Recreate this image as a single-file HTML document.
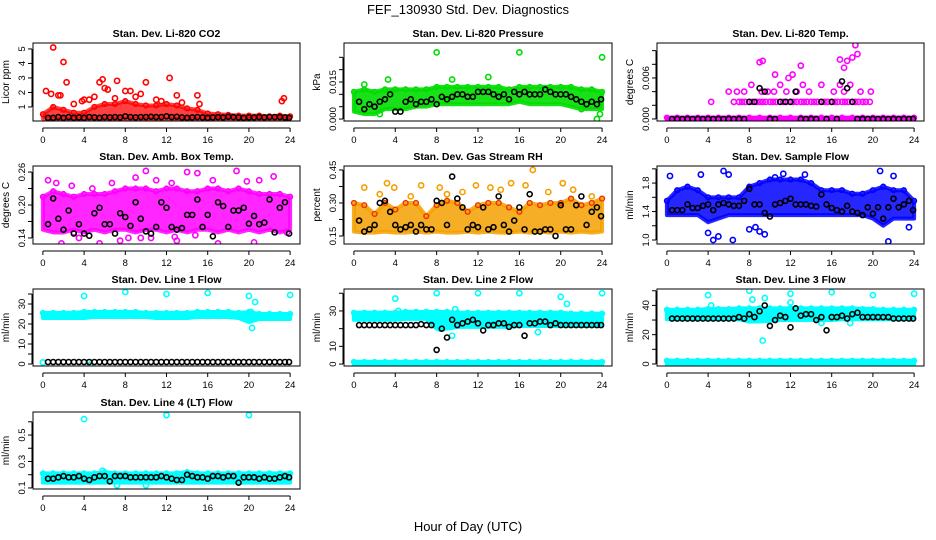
<!DOCTYPE html>
<html><head><meta charset="utf-8">
<style>
body{margin:0;background:#fff;}
svg{display:block;font-family:"Liberation Sans",sans-serif;}
</style></head>
<body>
<svg id="c" width="936" height="540" viewBox="0 0 936 540" xmlns="http://www.w3.org/2000/svg">
<text x="468" y="14" text-anchor="middle" font-size="13">FEF_130930  Std. Dev. Diagnostics</text>
<text x="468" y="531" text-anchor="middle" font-size="13">Hour of Day (UTC)</text>
</svg>
<script>
// shared x tick labels and band hours
const xTicks = [0,4,8,12,16,20,24];
const bandHours = [0,1,2,3,4,5,6,7,8,9,10,11,12,13,14,15,16,17,18,19,20,21,22,23,24];
const blackHours = [0.5,1,1.5,2,2.5,3,3.5,4,4.5,5,5.5,6,6.5,7,7.5,8,8.5,9,9.5,10,10.5,11,11.5,12,12.5,13,13.5,14,14.5,15,15.5,16,16.5,17,17.5,18,18.5,19,19.5,20,20.5,21,21.5,22,22.5,23,23.5,23.9];

// CO2
const co2Lo = [0.2,0.2,0.2,0.2,0.2,0.2,0.2,0.2,0.2,0.2,0.2,0.2,0.2,0.2,0.2,0.2,0.2,0.2,0.2,0.2,0.2,0.2,0.2,0.2,0.2];
const co2Hi = [0.5,1.0,0.8,0.6,0.6,1.0,1.2,1.2,1.4,1.2,1.1,1.1,1.2,1.1,0.9,0.8,0.55,0.5,0.45,0.4,0.4,0.4,0.35,0.4,0.35];
const co2OutX = [1,2,2.3,0.3,5.5,5.8,7.2,10,12.3,15,9.5,23.2,23.4,6,1.7,0.8,1.5,4,8,8.5,11,13,6.3,3.8,15.2,4.5,7,9,11.5,13.5,5,3];
const co2OutY = [5.1,4.1,2.7,2.1,2.7,2.9,2.8,2.7,3.0,1.8,1.9,1.4,1.6,2.3,1.8,1.9,1.8,1.5,2.1,2.1,1.5,1.8,2.2,1.4,1.2,1.5,1.6,1.7,1.4,1.3,1.7,1.2];
const co2Black = [0.25,0.25,0.3,0.25,0.3,0.25,0.28,0.25,0.3,0.28,0.25,0.3,0.28,0.3,0.28,0.35,0.3,0.28,0.3,0.3,0.32,0.3,0.3,0.35,0.3,0.32,0.28,0.25,0.28,0.3,0.28,0.25,0.28,0.3,0.28,0.32,0.3,0.28,0.25,0.28,0.28,0.3,0.28,0.3,0.3,0.3,0.28,0.25];
// Pressure
const prLo = [0.003,0.002,0.002,0.004,0.004,0.004,0.005,0.005,0.006,0.006,0.006,0.006,0.006,0.006,0.006,0.006,0.007,0.006,0.006,0.006,0.006,0.005,0.004,0.004,0.004];
const prHi = [0.011,0.012,0.011,0.012,0.012,0.012,0.012,0.012,0.013,0.013,0.013,0.013,0.013,0.013,0.013,0.012,0.013,0.013,0.013,0.013,0.013,0.013,0.012,0.012,0.011];
const prOutX = [8,16,24,23.5,3.3,13,1,2.5,23.8,9.5,22];
const prOutY = [0.027,0.027,0.025,0.000,0.016,0.017,0.014,0.002,0.002,0.016,0.004];
const prBlack = [0.007,0.004,0.006,0.005,0.007,0.008,0.010,0.003,0.003,0.007,0.008,0.006,0.007,0.007,0.008,0.006,0.009,0.008,0.009,0.010,0.010,0.009,0.009,0.011,0.011,0.011,0.010,0.009,0.010,0.008,0.011,0.010,0.011,0.010,0.010,0.010,0.012,0.011,0.010,0.010,0.010,0.009,0.008,0.007,0.006,0.007,0.006,0.008];
// Li-820 temp
const tLo = [-0.0002,-0.0002,-0.0002,-0.0002,-0.0002,-0.0002,-0.0002,-0.0002,-0.0002,-0.0002,-0.0002,-0.0002,-0.0002,-0.0002,-0.0002,-0.0002,-0.0002,-0.0002,-0.0002,-0.0002,-0.0002,-0.0002,-0.0002,-0.0002,-0.0002];
const tHi = [0.0002,0.0002,0.0002,0.0002,0.0002,0.0002,0.0002,0.0002,0.0002,0.0002,0.0002,0.0002,0.0002,0.0002,0.0002,0.0002,0.0002,0.0002,0.0002,0.0002,0.0002,0.0002,0.0002,0.0002,0.0002];
const tOutX = [4.3,6.5,7,7.3,7.6,8,8.3,8.7,9,9.3,9.6,10,10.3,10.6,11,11.3,11.6,12,12.3,12.6,13,13.3,13.6,14,14.3,14.6,15,15.3,15.6,16,16.3,16.6,17,17.3,17.6,18,18.3,18.6,19,19.3,19.7,6,6.8,7.5,8.2,9.2,9.8,10.4,11,11.6,12.6,13.2,13.8,15,16.2,16.8,17.2,17.8,18.8,19.8,9,9.3,10.5,11.8,12.2,13,16.8,17.5,18,18.3,18.5,17.2];
const tOutY = [0.0025,0.0025,0.0025,0.0025,0.0025,0.0025,0.0025,0.0025,0.0025,0.0025,0.0025,0.0025,0.0025,0.0025,0.0025,0.0025,0.0025,0.0025,0.0025,0.0025,0.0025,0.0025,0.0025,0.0025,0.0025,0.0025,0.0025,0.0025,0.0025,0.0025,0.0025,0.0025,0.0025,0.0025,0.0025,0.0025,0.0025,0.0025,0.0025,0.0025,0.0025,0.004,0.004,0.004,0.005,0.004,0.004,0.004,0.005,0.004,0.004,0.005,0.004,0.005,0.004,0.005,0.004,0.005,0.004,0.004,0.0083,0.0085,0.0065,0.006,0.0065,0.0078,0.0087,0.0085,0.009,0.0108,0.0095,0.0075];
const tBlack = [0,0,0,0,0,0,0,0,0,0,0,0,0,0,0,0.0025,0.0025,0.0045,0.004,0,0,0.0025,0.0025,0.0025,0.004,0,0,0,0,0.0025,0,0.0025,0,0.0055,0.0045,0.0025,0,0,0,0,0,0,0,0,0,0,0,0];
// Amb box temp
const abLo = [0.155,0.15,0.15,0.155,0.15,0.155,0.15,0.155,0.155,0.15,0.155,0.155,0.15,0.155,0.15,0.155,0.155,0.15,0.155,0.15,0.155,0.15,0.155,0.15,0.155];
const abHi = [0.215,0.225,0.22,0.215,0.22,0.22,0.22,0.225,0.23,0.23,0.23,0.225,0.23,0.23,0.225,0.225,0.23,0.23,0.225,0.23,0.225,0.22,0.22,0.22,0.215];
const abOutX = [0.5,1.3,2.8,4.8,6.7,9,10,11,12.5,14,15,16.5,18.8,19.8,21,22.4,1.8,3.5,5.5,8.3,10.5,13,17,20.5,23.7,3,12.8,14.8,7.5,9.5];
const abOutY = [0.245,0.24,0.235,0.23,0.24,0.25,0.262,0.245,0.24,0.26,0.258,0.245,0.262,0.243,0.245,0.252,0.13,0.14,0.13,0.14,0.14,0.135,0.13,0.132,0.15,0.15,0.142,0.145,0.135,0.14];
const abBlack = [0.165,0.212,0.175,0.155,0.19,0.148,0.165,0.148,0.144,0.185,0.195,0.165,0.165,0.148,0.185,0.178,0.162,0.205,0.175,0.152,0.148,0.16,0.205,0.195,0.16,0.155,0.158,0.182,0.182,0.21,0.16,0.182,0.143,0.205,0.198,0.16,0.19,0.19,0.195,0.166,0.18,0.165,0.168,0.21,0.15,0.195,0.205,0.148];
// RH
const rhLo = [0.17,0.165,0.165,0.17,0.165,0.165,0.17,0.165,0.17,0.165,0.165,0.17,0.165,0.17,0.165,0.165,0.17,0.165,0.17,0.165,0.17,0.165,0.17,0.165,0.17];
const rhHi = [0.3,0.29,0.25,0.3,0.27,0.3,0.3,0.24,0.29,0.31,0.3,0.26,0.29,0.3,0.3,0.28,0.26,0.3,0.29,0.3,0.3,0.32,0.29,0.3,0.32];
const rhOutX = [1,2.5,3.2,3.9,5.5,6.5,8.3,9,10.5,11.8,13.2,14.2,15.2,16.6,17.3,18.8,20.2,21.2,23];
const rhOutY = [0.37,0.34,0.39,0.37,0.33,0.38,0.37,0.34,0.35,0.38,0.37,0.36,0.39,0.38,0.45,0.35,0.39,0.36,0.33];
const rhBlack = [0.22,0.17,0.18,0.2,0.3,0.31,0.26,0.2,0.18,0.19,0.2,0.17,0.2,0.18,0.18,0.31,0.3,0.2,0.42,0.32,0.28,0.18,0.2,0.19,0.28,0.18,0.19,0.33,0.2,0.17,0.22,0.28,0.18,0.34,0.17,0.17,0.18,0.18,0.15,0.29,0.18,0.18,0.29,0.33,0.2,0.26,0.28,0.24];
// Sample flow
const sfLo = [1.35,1.35,1.35,1.35,1.25,1.3,1.35,1.35,1.35,1.35,1.35,1.35,1.35,1.35,1.35,1.35,1.35,1.35,1.35,1.35,1.3,1.2,1.3,1.3,1.3];
const sfHi = [1.55,1.7,1.75,1.7,1.6,1.6,1.6,1.6,1.75,1.8,1.85,1.85,1.85,1.85,1.8,1.7,1.7,1.7,1.65,1.65,1.7,1.75,1.7,1.7,1.55];
const sfOutX = [0.3,5.5,6,6.4,4.5,5,4,8,9,9.5,20.7,21.5,22,23.5,11.3,13.4,3.3,8.6,10.5];
const sfOutY = [1.9,1.97,1.92,1.0,1.0,1.05,1.1,1.15,1.12,1.08,1.97,0.98,1.9,1.18,1.93,1.92,1.92,1.18,1.88];
const sfBlack = [1.42,1.42,1.42,1.5,1.45,1.45,1.48,1.5,1.42,1.5,1.52,1.5,1.48,1.48,1.55,1.72,1.5,1.5,1.38,1.33,1.5,1.52,1.55,1.58,1.5,1.5,1.5,1.48,1.47,1.64,1.5,1.45,1.42,1.4,1.48,1.4,1.38,1.35,1.46,1.37,1.46,1.3,1.46,1.58,1.46,1.5,1.55,1.42];
// Line 1
const l1Lo = [23,23,23,23,23,23.5,23.5,23.5,23.5,23.5,23.5,23,23,23,23,23.5,23.5,23.5,23.5,23,21,22.5,22.5,22.5,22.5];
const l1Hi = [25.5,25.5,25.5,25.5,26,26,26,26,26,26,25.5,25.5,25.5,25.5,25.5,26,26,26,26,25.5,26,25,25,25,25];
const l1OutX = [4,8,12,16,20,24,20.3,20.6,0,4.6,20.2];
const l1OutY = [34,36,35,35.5,34,34.5,18,31,0.8,-0.3,26];
const l1Black = [1,1,1,1,1,1,1,1,1,1,1,1,1,1,1,1,1,1,1,1,1,1,1,1,1,1,1,1,1,1,1,1,1,1,1,1,1,1,1,1,1,1,1,1,1,1,1,1];
// Line 2
const l2Lo = [25,25,25,25,25,25.5,25.5,25.5,20,20,21,21,21,21,21,21,21.5,21.5,21.5,21.5,21.5,21.5,21.5,21.5,21.5];
const l2Hi = [29,29,29,29,29,29.5,29.5,29.5,29.5,29.5,29,29,29,29,29,29,29,29,29,29,29,28.5,28.5,28.5,28.5];
const l2OutX = [4,8,12,16,20,24,4.3,9.5,20.6,8.3,9.8,17.8];
const l2OutY = [37,40,40,40,38,40,30,16,34,20,31,18];
const l2Black = [22,22,22,22,22,22,22,22,22,22,22,22,22.5,22,22,8,20,15,25,22,23,24,25,23,19,22,22,23,23,21,22,22,16,23,23,24,24,22,23,22,22,22,22,22,22,22,22,22];
const l2ZeroLo = [-0.5,-0.5,-0.5,-0.5,-0.5,-0.5,-0.5,-0.5,-0.5,-0.5,-0.5,-0.5,-0.5,-0.5,-0.5,-0.5,-0.5,-0.5,-0.5,-0.5,-0.5,-0.5,-0.5,-0.5,-0.5];
const l2ZeroHi = [1.2,1.2,1.2,1.2,1.2,1.2,1.2,1.2,1.2,1.2,1.2,1.2,1.2,1.2,1.2,1.2,1.2,1.2,1.2,1.2,1.2,1.2,1.2,1.2,1.2];
// Line 3
const l3Lo = [30.5,30.5,30.5,30.5,30.5,30.5,30.5,30.5,29,29,29.5,30,30,30,30,30,30,30.5,30.5,30.5,30.5,30.5,30.5,30.5,30.5];
const l3Hi = [37,37,37,37,37.5,37.5,37.5,38,38,38,38,38,38,38,38,38,38,38,38,37.5,37.5,37,37,37,37];
const l3OutX = [4,8,12,16,20,24,8.3,9.5,12,17.8,9.3,4.3,15];
const l3OutY = [47,50,48,49,47,48,44,45,42,28,16,40,28];
const l3Black = [31,31,31,31,31,31,31,31,31,31,31,31,31,32,31,34,32,36,40,26,30,33,32,25,38,33,34,34,30,32,23,32,32,33,31,34,35,32,32,32,32,32,32,31,31,31,31,31];
const l3ZeroLo = [0,0,0,0,0,0,0,0,0,0,0,0,0,0,0,0,0,0,0,0,0,0,0,0,0];
const l3ZeroHi = [2.2,2.2,2.2,2.2,2.2,2.2,2.2,2.2,2.2,2.2,2.2,2.2,2.2,2.2,2.2,2.2,2.2,2.2,2.2,2.2,2.2,2.2,2.2,2.2,2.2];
// Line 4
const l4Lo = [0.14,0.14,0.14,0.14,0.14,0.14,0.14,0.14,0.14,0.14,0.14,0.14,0.14,0.14,0.14,0.14,0.14,0.14,0.14,0.14,0.14,0.14,0.14,0.14,0.14];
const l4Hi = [0.21,0.21,0.21,0.21,0.21,0.21,0.22,0.21,0.21,0.21,0.21,0.21,0.21,0.21,0.22,0.21,0.21,0.21,0.21,0.21,0.21,0.21,0.21,0.21,0.21];
const l4OutX = [4,12,20,10,5.8,7.2];
const l4OutY = [0.62,0.65,0.65,0.12,0.23,0.12];
const l4Black = [0.17,0.17,0.18,0.19,0.18,0.18,0.19,0.17,0.16,0.18,0.19,0.19,0.15,0.19,0.19,0.19,0.18,0.18,0.18,0.18,0.18,0.18,0.19,0.18,0.17,0.16,0.16,0.2,0.19,0.18,0.18,0.17,0.19,0.19,0.18,0.19,0.19,0.14,0.18,0.18,0.18,0.17,0.18,0.17,0.17,0.18,0.19,0.18];

const panels = [
 {name:'co2',title:'Stan. Dev. Li-820 CO2',yl:'Licor ppm',box:[33,43,300,121],yd:[0.03,5.41],ticks:[1,2,3,4,5],labs:['1','2','3','4','5'],col:'#ff0000',edge:'#ff0000',fo:0.75,bands:[[co2Lo,co2Hi]],ox:co2OutX,oy:co2OutY,bk:co2Black},
 {name:'pressure',title:'Stan. Dev. Li-820 Pressure',yl:'kPa',box:[344,43,612,121],yd:[-0.0008,0.0308],ticks:[0,0.005,0.01,0.015,0.02,0.025],labs:['0.000','','','0.015','',''],col:'#00dd00',edge:'#00dd00',fo:0.9,bands:[[prLo,prHi]],ox:prOutX,oy:prOutY,bk:prBlack},
 {name:'li820-temp',title:'Stan. Dev. Li-820 Temp.',yl:'degrees C',box:[657,43,924,121],yd:[-0.0003,0.01112],ticks:[0,0.002,0.004,0.006,0.008,0.01],labs:['0.000','','','0.006','',''],col:'#ff00ff',edge:'#ff00ff',fo:1,bands:[[tLo,tHi]],ox:tOutX,oy:tOutY,bk:tBlack},
 {name:'amb-box-temp',title:'Stan. Dev. Amb. Box Temp.',yl:'degrees C',box:[33,166,300,244],yd:[0.129,0.271],ticks:[0.14,0.17,0.2,0.23,0.26],labs:['0.14','','0.20','','0.26'],col:'#ff00ff',edge:'#ff00ff',fo:0.85,bands:[[abLo,abHi]],ox:abOutX,oy:abOutY,bk:abBlack},
 {name:'gas-rh',title:'Stan. Dev. Gas Stream RH',yl:'percent',box:[344,166,612,244],yd:[0.1136,0.468],ticks:[0.15,0.225,0.3,0.375,0.45],labs:['0.15','','0.30','','0.45'],col:'#f5a000',edge:'#ee3300',fo:0.85,bands:[[rhLo,rhHi]],ox:rhOutX,oy:rhOutY,bk:rhBlack},
 {name:'sample-flow',title:'Stan. Dev. Sample Flow',yl:'ml/min',box:[657,166,924,244],yd:[0.944,2.04],ticks:[1,1.2,1.4,1.6,1.8,2.0],labs:['1.0','','1.4','','1.8',''],col:'#0000ff',edge:'#0000ff',fo:0.85,bands:[[sfLo,sfHi]],ox:sfOutX,oy:sfOutY,bk:sfBlack},
 {name:'line1-flow',title:'Stan. Dev. Line 1 Flow',yl:'ml/min',box:[33,289,300,366],yd:[-1,37.5],ticks:[0,5,10,15,20,25,30,35],labs:['0','','10','','20','','30',''],col:'#00ffff',edge:'#00ffff',fo:1,bands:[[l1Lo,l1Hi]],ox:l1OutX,oy:l1OutY,bk:l1Black},
 {name:'line2-flow',title:'Stan. Dev. Line 2 Flow',yl:'ml/min',box:[344,289,612,366],yd:[-1.1,42.4],ticks:[0,10,20,30,40],labs:['0','10','','30',''],col:'#00ffff',edge:'#00ffff',fo:1,bands:[[l2Lo,l2Hi],[l2ZeroLo,l2ZeroHi]],ox:l2OutX,oy:l2OutY,bk:l2Black},
 {name:'line3-flow',title:'Stan. Dev. Line 3 Flow',yl:'ml/min',box:[657,289,924,366],yd:[-1.4,51.2],ticks:[0,10,20,30,40,50],labs:['0','','20','','40',''],col:'#00ffff',edge:'#00ffff',fo:1,bands:[[l3Lo,l3Hi],[l3ZeroLo,l3ZeroHi]],ox:l3OutX,oy:l3OutY,bk:l3Black},
 {name:'line4-flow',title:'Stan. Dev. Line 4 (LT) Flow',yl:'ml/min',box:[33,412,300,489],yd:[0.092,0.674],ticks:[0.1,0.2,0.3,0.4,0.5,0.6],labs:['0.1','','0.3','','0.5',''],col:'#00ffff',edge:'#00ffff',fo:1,bands:[[l4Lo,l4Hi]],ox:l4OutX,oy:l4OutY,bk:l4Black}
];

const svg = document.getElementById('c');
const NS = 'http://www.w3.org/2000/svg';
function mk(tag, attrs, parent){
  const e = document.createElementNS(NS, tag);
  for (const k in attrs) e.setAttribute(k, attrs[k]);
  parent.appendChild(e);
  return e;
}
panels.forEach(p => {
  const [x0,y0,x1,y1] = p.box;
  const sx = v => x0 + (v + 0.96) / 25.92 * (x1 - x0);
  const sy = v => y1 - (v - p.yd[0]) / (p.yd[1] - p.yd[0]) * (y1 - y0);
  const g = mk('g', {}, svg);
  
  
  const cp = mk('clipPath', {id: 'cp-' + p.name}, g);
  mk('rect', {x: x0, y: y0, width: x1 - x0, height: y1 - y0}, cp);
  const t = mk('text', {x: (x0 + x1) / 2, y: y0 - 6, 'text-anchor': 'middle', 'font-size': 10.5, 'font-weight': 'bold'}, g);
  t.textContent = p.title;
  
  
  const yl = mk('text', {transform: `translate(${x0 - 24},${(y0 + y1) / 2}) rotate(-90)`, 'text-anchor': 'middle', 'font-size': 10}, g);
  yl.textContent = p.yl;
  
  
  const data = mk('g', {'clip-path': `url(#cp-${p.name})`}, g);
  
  
  p.bands.forEach(b => {
    const lo = b[0], hi = b[1];
    let pts = bandHours.map((h, i) => sx(h) + ',' + sy(hi[i]));
    pts = pts.concat(bandHours.slice().reverse().map((h, j) => sx(h) + ',' + sy(lo[bandHours.length - 1 - j])));
    const poly = mk('polygon', {points: pts.join(' '), fill: p.col, 'fill-opacity': p.fo, stroke: p.col, 'stroke-opacity': p.fo, 'stroke-width': 4, 'stroke-linejoin': 'round'}, data);
    
    
    bandHours.forEach((h, i) => {
      const e1 = mk('circle', {cx: sx(h), cy: sy(hi[i]), r: 2.4, fill: 'none', stroke: p.edge, 'stroke-width': 1.4}, data);
      
      
    });
  });
  p.ox.forEach((x, i) => {
    const c = mk('circle', {cx: sx(x), cy: sy(p.oy[i]), r: 2.6, fill: 'none', stroke: p.col, 'stroke-width': 1.6}, data);
    
    
  });
  p.bk.forEach((v, i) => {
    const c = mk('circle', {cx: sx(blackHours[i]), cy: sy(v), r: 2.5, fill: 'none', stroke: '#000', 'stroke-width': 1.6}, data);
    
    
  });
  const box = mk('rect', {x: x0, y: y0, width: x1 - x0, height: y1 - y0, fill: 'none', stroke: '#000', 'stroke-width': 1}, g);
  
  
  // x axis
  mk('line', {x1: sx(0), x2: sx(24), y1: y1 + 7, y2: y1 + 7, stroke: '#000'}, g);
  xTicks.forEach(v => {
    mk('line', {x1: sx(v), x2: sx(v), y1: y1 + 7, y2: y1 + 11, stroke: '#000'}, g);
    const tx = mk('text', {x: sx(v), y: y1 + 22, 'text-anchor': 'middle', 'font-size': 9.5}, g);
    tx.textContent = v;
    
    
  });
  // y axis
  mk('line', {x1: x0 - 1, x2: x0 - 1, y1: sy(p.ticks[0]), y2: sy(p.ticks[p.ticks.length - 1]), stroke: '#000'}, g);
  p.ticks.forEach((v, i) => {
    mk('line', {x1: x0 - 5, x2: x0 - 1, y1: sy(v), y2: sy(v), stroke: '#000'}, g);
    if (p.labs[i]) {
      const ty = mk('text', {transform: `translate(${x0 - 8},${sy(v)}) rotate(-90)`, 'text-anchor': 'middle', 'font-size': 9.5}, g);
      ty.textContent = p.labs[i];
      
      
    }
  });
});
</script>
</body></html>
